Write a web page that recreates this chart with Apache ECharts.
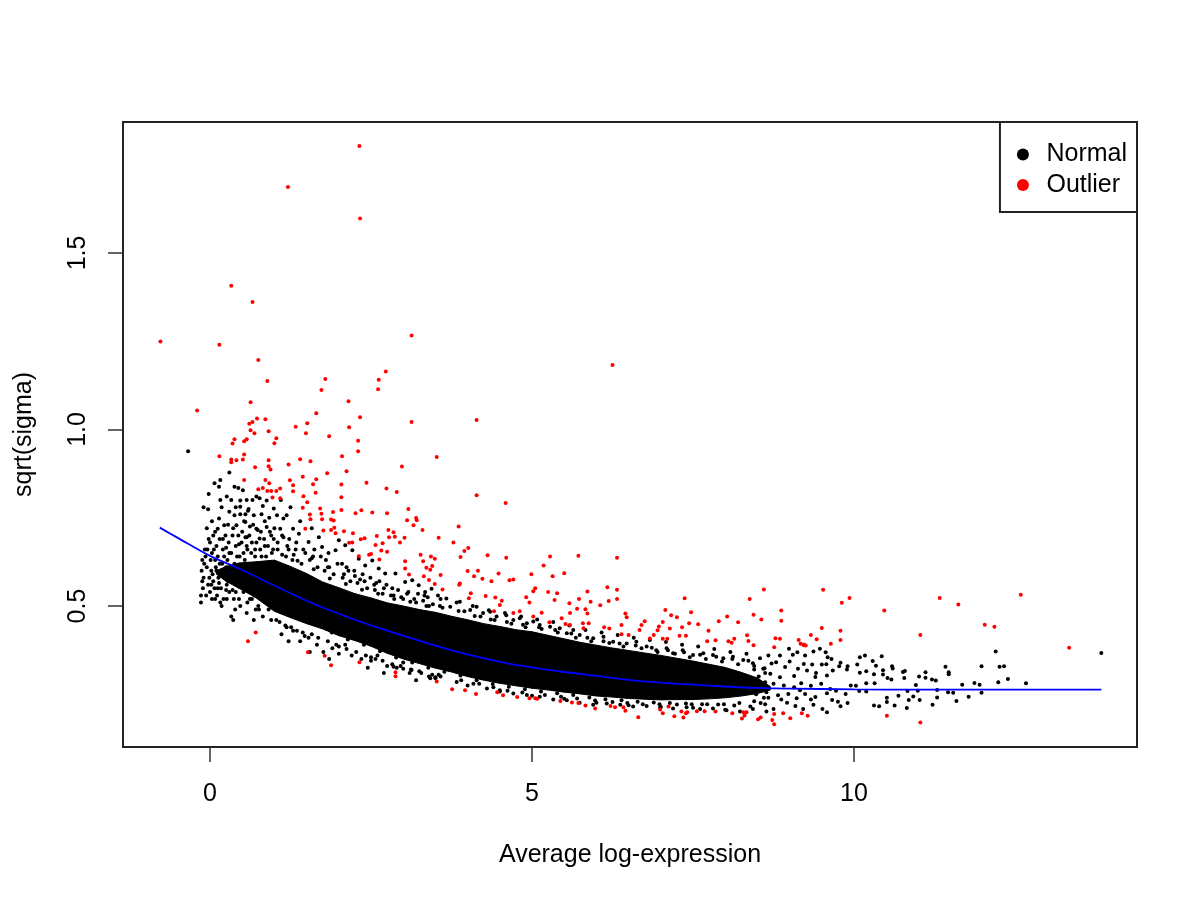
<!DOCTYPE html>
<html>
<head>
<meta charset="utf-8">
<script src="https://cdn.jsdelivr.net/npm/echarts@6/dist/echarts.min.js"></script>
<style>
html,body{margin:0;padding:0;background:#fff;}
#chart{width:1200px;height:900px;}
</style>
</head>
<body>
<div id="chart"></div>
<script>
// ---- axis ticks ----
const xTicks = [0, 5, 10];
const yTicks = [0.5, 1.0, 1.5];

// ---- fitted trend (blue line) ----
const lineX = [-0.78,-0.5,0,0.5,1,1.5,2,2.5,3,3.5,4,4.5,5,5.5,6,6.5,7,7.5,8,8.5,9,10,11,12,13,13.84];
const lineY = [0.722,0.693,0.642,0.602,0.558,0.515,0.478,0.445,0.416,0.388,0.363,0.342,0.326,0.313,0.302,0.291,0.283,0.277,0.272,0.268,0.266,0.264,0.263,0.263,0.263,0.263];

// ---- solid core of the "Normal" cloud (lower / upper edge) ----
const coreX = [0.1,0.25,0.45,0.7,1.0,1.25,1.5,1.75,2.0,2.25,2.5,2.75,3.0,3.25,3.5,3.75,4.0,4.25,4.5,4.75,5.0,5.25,5.5,5.75,6.0,6.25,6.5,6.75,7.0,7.25,7.5,7.75,8.0,8.25,8.5,8.7];
const coreLow = [0.59,0.57,0.55,0.525,0.485,0.467,0.45,0.435,0.416,0.402,0.386,0.366,0.35,0.337,0.324,0.313,0.3,0.29,0.281,0.274,0.267,0.262,0.256,0.251,0.245,0.242,0.238,0.236,0.234,0.235,0.235,0.237,0.24,0.245,0.252,0.262];
const coreHigh = [0.60,0.612,0.622,0.625,0.63,0.612,0.592,0.568,0.552,0.535,0.523,0.509,0.5,0.49,0.482,0.471,0.461,0.45,0.442,0.433,0.427,0.417,0.407,0.397,0.389,0.381,0.374,0.367,0.36,0.352,0.344,0.335,0.326,0.312,0.296,0.272];

// ---- Normal points ----
const normalLeft = [[-0.34,0.938],[0.30,0.878],[0.07,0.848],[0.16,0.857],[0.14,0.838],[-0.02,0.817],[-0.10,0.780],[-0.03,0.774],[0.38,0.838],[0.44,0.834],[0.51,0.828],[0.16,0.800],[0.33,0.800],[0.47,0.799],[0.57,0.800],[0.72,0.810],[0.77,0.805],[0.88,0.799],[0.82,0.783],[0.47,0.781],[0.30,0.767],[0.14,0.748],[0.22,0.729],[0.12,0.719],[0.38,0.757],[0.41,0.729],[0.55,0.738],[0.68,0.757],[0.99,0.776],[0.57,0.695],[0.77,0.691],[0.95,0.700],[0.72,0.719],[0.88,0.724],[0.05,0.70],[0.0,0.68],[0.10,0.67],[0.20,0.69],[0.25,0.665],[0.35,0.70],[0.45,0.675],[0.50,0.71],[0.62,0.725],[0.65,0.68],[0.85,0.67],[0.92,0.75],[0.60,0.775],[0.26,0.81],[0.55,0.76],[0.03,0.74],[-0.05,0.72],[-0.08,0.66],[0.18,0.78],[0.40,0.78],[0.66,0.80],[0.85,0.74],[0.70,0.66],[0.30,0.65],[0.98,0.66],
[-0.12,0.63],[-0.05,0.61],[-0.10,0.58],[0.02,0.60],[0.05,0.57],[-0.14,0.53],[-0.14,0.51],[0.0,0.54],[0.08,0.52],[0.16,0.51],[0.26,0.52],[0.33,0.47],[0.36,0.46],[0.47,0.50],[0.57,0.48],[0.68,0.46],[0.82,0.47],[0.95,0.46],[-0.03,0.56],[0.12,0.55],[0.22,0.64],[0.08,0.63],[0.18,0.59],[0.28,0.57],[0.40,0.54],[0.42,0.64],[0.52,0.65],[0.62,0.52],[0.75,0.50],[0.80,0.64],[0.90,0.52],[0.15,0.62],[0.35,0.61],[0.25,0.545],[0.45,0.58],[0.58,0.66],[0.70,0.59],[-0.07,0.64],[0.03,0.65],[0.10,0.60],[0.64,0.55],[0.86,0.55],
[-0.13,0.60],[-0.11,0.55],[-0.09,0.62],[-0.06,0.53],[-0.04,0.66],[-0.01,0.58],[0.01,0.63],[0.03,0.52],[0.04,0.59],[0.06,0.66],[0.07,0.55],[0.09,0.61],[0.11,0.53],[0.12,0.64],[0.13,0.58],[0.15,0.69],[0.17,0.55],[0.19,0.62],[0.20,0.66],[0.21,0.52],[0.23,0.59],[0.24,0.70],[0.26,0.56],[0.27,0.63],[0.29,0.68],[0.30,0.54],[0.31,0.60],[0.33,0.65],[0.34,0.57],[0.36,0.72],[0.37,0.52],[0.38,0.62],[0.40,0.67],[0.41,0.56],[0.43,0.60],[0.44,0.70],[0.45,0.52],[0.46,0.64],[0.48,0.57],[0.49,0.68],[0.50,0.61],[0.52,0.54],[0.53,0.74],[0.54,0.63],[0.56,0.58],[0.57,0.67],[0.58,0.51],[0.60,0.62],[0.61,0.70],[0.63,0.56],[0.64,0.65],[0.66,0.60],[0.67,0.73],[0.69,0.53],[0.70,0.64],[0.72,0.68],[0.73,0.58],[0.75,0.62],[0.76,0.49],[0.78,0.66],[0.79,0.71],[0.81,0.56],[0.82,0.61],[0.84,0.69],[0.85,0.52],[0.87,0.64],[0.88,0.58],[0.90,0.67],[0.92,0.62],[0.93,0.71],[0.95,0.55],[0.96,0.65],[0.98,0.60],[0.99,0.69],[-0.12,0.57],[-0.02,0.69],[0.08,0.71],[0.18,0.50],[0.28,0.73],[0.39,0.49],[0.47,0.76],[0.59,0.77],[0.71,0.49],[0.80,0.76],[0.91,0.49],[1.0,0.72],[0.02,0.56],[0.14,0.565],[0.25,0.61],[0.35,0.545],[0.55,0.695],[0.65,0.52],[0.74,0.715],[0.86,0.60],[0.97,0.52]];

const normalMid = [[1.04,0.757],[1.14,0.748],[1.19,0.757],[1.29,0.719],[1.09,0.719],[1.14,0.695],[1.38,0.705],[1.53,0.681],[1.69,0.695],[1.74,0.667],[2.00,0.686],[1.95,0.658],[2.10,0.672],[2.21,0.658],[2.31,0.634],[2.41,0.615],[2.52,0.629],[2.62,0.606],[2.72,0.592],[2.88,0.592],[3.03,0.568],[3.14,0.573],[3.24,0.559],[3.34,0.540],[3.44,0.549],[3.54,0.530],[3.67,0.521],[1.05,0.68],[1.22,0.66],[1.30,0.645],[1.45,0.66],[1.60,0.64],[1.25,0.78],[1.10,0.80],[1.40,0.74],[1.58,0.72],[1.80,0.63],[1.85,0.61],[2.05,0.62],[2.15,0.60],[2.25,0.585],[2.40,0.57],[2.55,0.56],[2.70,0.55],[2.85,0.53],[3.00,0.52],[3.20,0.51],[3.40,0.50],
[1.03,0.46],[1.11,0.42],[1.19,0.44],[1.29,0.43],[1.40,0.40],[1.53,0.41],[1.66,0.39],[1.76,0.37],[1.9,0.38],[2.0,0.365],[2.1,0.39],[2.2,0.36],[2.35,0.35],[2.5,0.345],[2.6,0.36],[2.75,0.33],[2.9,0.325],[3.0,0.34],[3.1,0.31],[3.25,0.315],[3.4,0.30],[3.5,0.295],[1.55,0.37],[1.85,0.35],[2.45,0.325],[3.2,0.29],[1.22,0.40],[2.7,0.31],[2.85,0.328],[3.13,0.319],[3.55,0.305],[3.42,0.295],
[1.12,0.645],[1.20,0.67],[1.36,0.628],[1.33,0.66],[1.61,0.604],[1.58,0.635],[1.47,0.415],[1.86,0.578],[1.83,0.61],[1.89,0.425],[2.11,0.562],[2.08,0.59],[2.0,0.385],[2.14,0.405],[2.36,0.546],[2.33,0.575],[2.39,0.39],[2.61,0.535],[2.58,0.565],[2.5,0.355],[2.64,0.372],[2.86,0.52],[2.83,0.55],[2.89,0.354],[3.11,0.512],[3.08,0.54],[3.0,0.322],[3.14,0.34],[3.36,0.50],[3.33,0.53],[3.39,0.325],[3.61,0.495],[3.58,0.52],[3.5,0.298],[3.64,0.314],
[1.05,0.66],[1.12,0.70],[1.18,0.64],[1.23,0.69],[1.28,0.63],[1.34,0.68],[1.42,0.62],[1.48,0.65],[1.55,0.63],[1.62,0.66],[1.67,0.61],[1.72,0.64],[1.78,0.60],[1.84,0.65],[1.92,0.59],[1.98,0.62],[2.06,0.58],[2.12,0.61],[2.18,0.57],[2.24,0.60],[2.29,0.565],[2.37,0.59],[2.44,0.55],[2.49,0.58],[2.56,0.545],[2.63,0.57],[2.68,0.535],[2.74,0.56],[2.81,0.53],[2.92,0.545],[2.97,0.525],[3.06,0.535],[3.17,0.52],[3.23,0.535],[3.31,0.515],[3.38,0.525],[3.46,0.505],[3.57,0.50],
[1.08,0.455],[1.17,0.445],[1.26,0.44],[1.35,0.43],[1.44,0.425],[1.58,0.42],[1.68,0.41],[1.83,0.40],[1.96,0.39],[2.12,0.378],[2.27,0.37],[2.42,0.36],[2.57,0.35],[2.68,0.345],[2.83,0.335],[2.96,0.33],[3.12,0.32],[3.28,0.31],[3.45,0.305],[3.58,0.30]];

const normalRight = [[3.73,0.498],[3.88,0.512],[4.04,0.489],[4.14,0.498],[4.24,0.480],[4.35,0.484],[4.45,0.470],[4.60,0.474],[4.71,0.460],[4.81,0.465],[4.92,0.451],[5.02,0.456],[5.12,0.446],[5.28,0.441],[5.43,0.437],[5.54,0.423],[5.64,0.432],[5.74,0.418],[5.95,0.409],[6.11,0.413],[6.26,0.399],[6.47,0.394],[6.62,0.399],[6.78,0.385],[6.93,0.375],[7.09,0.380],[7.19,0.366],[7.34,0.375],[7.50,0.361],[7.66,0.366],[7.81,0.361],[7.97,0.352],[8.12,0.356],[8.28,0.347],[8.43,0.338],[8.54,0.352],[8.61,0.324],
[3.83,0.285],[4.09,0.280],[4.30,0.266],[4.50,0.261],[4.71,0.252],[4.92,0.248],[5.12,0.243],[5.33,0.235],[5.54,0.233],[5.74,0.226],[5.95,0.220],[6.16,0.224],[6.37,0.220],[6.57,0.215],[6.78,0.217],[6.99,0.213],[7.19,0.210],[7.40,0.213],[7.61,0.208],[7.81,0.210],[8.02,0.205],[8.23,0.201],[8.43,0.208],[8.64,0.201],
[3.86,0.486],[3.89,0.303],[3.83,0.51],[4.11,0.472],[4.14,0.29],[4.08,0.50],[4.0,0.275],[4.36,0.462],[4.39,0.279],[4.33,0.488],[4.61,0.455],[4.64,0.271],[4.58,0.48],[4.5,0.258],[4.86,0.447],[4.89,0.264],[4.83,0.47],[5.11,0.44],[5.14,0.258],[5.08,0.462],[5.0,0.246],[5.36,0.432],[5.39,0.253],[5.33,0.455],[5.61,0.422],[5.64,0.248],[5.58,0.445],[5.5,0.237],[5.86,0.41],[5.89,0.241],[5.83,0.432],[6.11,0.40],[6.14,0.236],[6.08,0.425],[6.0,0.226],[6.36,0.394],[6.39,0.233],[6.33,0.418],[6.61,0.388],[6.64,0.229],[6.58,0.41],[6.5,0.219],[6.86,0.382],[6.89,0.227],[6.83,0.404],[7.11,0.375],[7.14,0.225],[7.08,0.398],[7.0,0.214],[7.36,0.369],[7.39,0.224],[7.33,0.39],[7.61,0.362],[7.64,0.222],[7.58,0.385],[7.5,0.212],[7.86,0.356],[7.89,0.221],[7.83,0.378],[8.11,0.35],[8.14,0.218],[8.08,0.37],[8.0,0.206],[8.36,0.345],[8.39,0.215],[8.33,0.365],[8.52,0.30],[8.45,0.33],[8.48,0.25],[8.55,0.225],[8.42,0.29],[8.58,0.27],[8.62,0.31],[8.6,0.24],
[3.95,0.485],[4.2,0.47],[4.42,0.46],[4.68,0.45],[4.9,0.44],[5.15,0.435],[5.4,0.425],[5.68,0.41],[5.92,0.40],[6.2,0.395],[6.42,0.385],[6.7,0.38],[6.95,0.37],[7.22,0.365],[7.45,0.355],[7.7,0.35],[7.95,0.343],[8.2,0.335],[8.45,0.32],
[3.9,0.29],[4.18,0.28],[4.4,0.27],[4.62,0.26],[4.85,0.255],[5.2,0.248],[5.45,0.243],[5.7,0.238],[5.98,0.232],[6.25,0.228],[6.48,0.225],[6.72,0.222],[6.98,0.222],[7.25,0.221],[7.48,0.222],[7.72,0.222],[7.98,0.222],[8.22,0.225],[8.45,0.23]];

const normalTail = [[8.99,0.379],[8.85,0.360],[8.67,0.360],[9.05,0.362],[9.12,0.369],[9.24,0.360],[9.37,0.371],[9.47,0.379],[9.56,0.369],[8.79,0.341],[8.93,0.327],[9.0,0.343],[9.22,0.336],[9.35,0.334],[9.50,0.334],[8.59,0.322],[8.70,0.308],[8.85,0.298],[9.07,0.302],[9.27,0.317],[9.41,0.310],[9.58,0.303],[9.67,0.317],[8.62,0.284],[8.75,0.280],[8.91,0.275],[9.07,0.270],[9.18,0.281],[9.33,0.274],[9.49,0.280],[9.63,0.265],[8.64,0.256],[8.82,0.247],[8.98,0.251],[9.11,0.239],[9.24,0.251],[9.40,0.242],[9.58,0.253],[9.66,0.234],[8.62,0.222],[8.75,0.208],[8.96,0.226],[9.09,0.217],[9.21,0.208],[9.37,0.220],[9.51,0.208],[9.58,0.199],[8.67,0.240],[8.87,0.235],[9.33,0.235],[9.16,0.261],[9.40,0.299],[9.13,0.322],[8.72,0.337],[9.59,0.355],
[10.09,0.355],[10.17,0.360],[10.29,0.344],[10.43,0.358],[10.05,0.334],[9.90,0.329],[9.79,0.339],[9.65,0.350],[9.57,0.335],[9.77,0.329],[9.89,0.320],[10.09,0.311],[10.19,0.315],[10.34,0.331],[10.45,0.318],[10.45,0.306],[10.59,0.329],[10.60,0.323],[10.58,0.292],[10.52,0.296],[10.31,0.307],[10.32,0.281],[10.19,0.281],[10.19,0.258],[10.08,0.259],[9.95,0.275],[10.03,0.274],[9.87,0.251],[9.90,0.225],[9.79,0.216],[9.75,0.229],[9.72,0.260],[10.31,0.218],[10.39,0.216],[10.51,0.228],[10.51,0.240],[10.63,0.218],[10.69,0.246],[10.76,0.313],[10.79,0.316],[10.78,0.296],[10.83,0.259],[10.85,0.234],[10.82,0.211],[10.92,0.244],[10.96,0.276],[10.99,0.260],[11.02,0.234],[11.01,0.300],[11.11,0.312],[11.11,0.297],[11.22,0.220],[11.21,0.292],[11.27,0.289],[11.29,0.262],[11.29,0.241],[11.42,0.328],[11.47,0.312],[11.47,0.307],[11.46,0.256],[11.54,0.254],[11.59,0.231],[11.68,0.277],[11.78,0.243],[11.87,0.282],[11.95,0.277],[11.98,0.329],[11.98,0.254],[12.20,0.371],[12.24,0.284],[12.26,0.328],[12.33,0.329],[12.39,0.293],[12.67,0.281],[13.84,0.367]];

// ---- Outlier points ----
const outlierPts = [[2.32,1.803],[1.21,1.687],[2.33,1.598],[0.33,1.407],[0.66,1.361],[-0.77,1.249],[0.145,1.240],[3.13,1.266],[0.75,1.197],[2.73,1.164],[2.62,1.141],[1.79,1.143],[0.89,1.137],[1.73,1.112],[2.61,1.114],[-0.20,1.054],[0.63,1.077],[2.15,1.080],[1.65,1.046],[2.33,1.035],[3.13,1.021],[0.73,1.031],[0.86,1.029],[0.66,1.021],[0.61,1.016],[1.51,1.018],[1.33,1.008],[2.16,1.006],[0.63,0.998],[0.69,0.989],[0.91,0.995],[1.49,0.989],[1.85,0.981],[0.38,0.972],[0.57,0.972],[0.53,0.967],[1.03,0.975],[2.30,0.968],[0.35,0.960],[1.00,0.961],[6.25,1.183],[4.14,1.027],
[0.145,0.924],[0.33,0.915],[0.33,0.907],[0.41,0.913],[0.51,0.915],[0.53,0.929],[0.70,0.893],[0.91,0.913],[0.91,0.896],[0.94,0.887],[1.22,0.901],[1.40,0.916],[1.56,0.910],[2.05,0.924],[2.30,0.938],[3.52,0.922],[2.98,0.895],[1.82,0.876],[2.12,0.882],[1.44,0.866],[0.53,0.857],[0.86,0.857],[0.92,0.848],[1.24,0.856],[1.65,0.859],[1.60,0.845],[2.04,0.844],[2.43,0.849],[1.29,0.842],[2.74,0.833],[2.90,0.823],[0.75,0.831],[0.82,0.834],[0.89,0.826],[0.95,0.826],[1.03,0.826],[1.09,0.833],[1.29,0.825],[1.64,0.821],[0.97,0.807],[1.09,0.805],[1.45,0.811],[2.04,0.808],[1.51,0.794],[1.44,0.778],[1.71,0.776],[2.04,0.772],[2.26,0.763],[2.35,0.771],[2.52,0.765],[2.75,0.763],[3.08,0.775],[1.55,0.759],[1.73,0.761],[1.91,0.766],[1.56,0.746],[1.74,0.746],[1.88,0.745],[1.92,0.742],[3.20,0.749],[3.21,0.743],[3.06,0.743],[1.48,0.719],[1.88,0.715],[1.93,0.722],[2.08,0.712],[2.22,0.706],[1.95,0.706],[2.77,0.715],[2.85,0.709],[2.87,0.696],[3.16,0.729],[3.30,0.715],[1.76,0.714],[2.59,0.698],[2.78,0.695],[3.02,0.693],[3.55,0.693],[2.16,0.679],[2.21,0.680],[2.34,0.689],[2.40,0.692],[2.68,0.678],[2.57,0.673],[2.95,0.680],[2.66,0.657],[2.47,0.645],[2.50,0.647],[2.63,0.632],[2.75,0.654],[2.31,0.641],[3.27,0.645],[3.31,0.627],[3.03,0.627],[3.03,0.606],[3.09,0.589],[3.43,0.640],[3.49,0.634],[3.45,0.613],[3.42,0.603],[3.36,0.608],[3.32,0.584],[3.58,0.588],[3.40,0.574],[3.49,0.562],[3.61,0.547],
[0.71,0.425],[0.59,0.400],[1.52,0.369],[1.78,0.359],[1.88,0.332],[2.32,0.341],[2.88,0.312],[2.88,0.301],[3.52,0.286],
[4.14,0.814],[4.59,0.792],[3.86,0.725],[3.78,0.680],[3.95,0.656],[4.01,0.664],[3.89,0.639],[4.31,0.644],[4.60,0.637],[5.28,0.640],[5.72,0.642],[6.32,0.637],[4.00,0.599],[4.16,0.600],[4.10,0.584],[4.23,0.577],[4.48,0.592],[4.37,0.570],[4.65,0.573],[4.71,0.575],[4.99,0.590],[5.18,0.615],[5.32,0.584],[5.50,0.593],[3.88,0.564],[3.87,0.560],[4.05,0.536],[4.02,0.522],[4.28,0.528],[4.43,0.524],[4.53,0.515],[4.50,0.503],[4.41,0.485],[4.71,0.480],[4.81,0.485],[4.96,0.510],[4.91,0.525],[5.05,0.550],[5.02,0.542],[5.25,0.540],[5.39,0.536],[5.35,0.517],[5.58,0.508],[5.73,0.520],[5.86,0.541],[5.91,0.512],[6.17,0.553],[6.32,0.546],[6.32,0.520],[6.06,0.502],[6.19,0.514],[5.70,0.492],[5.83,0.491],[5.86,0.479],[5.59,0.480],[5.46,0.465],[5.52,0.449],[5.59,0.446],[5.27,0.454],[5.15,0.481],[5.02,0.470],[5.79,0.451],[5.88,0.451],[5.80,0.437],[6.12,0.440],[6.20,0.436],[6.39,0.446],[6.39,0.420],[6.50,0.418],[6.45,0.479],[6.47,0.468],[6.67,0.432],[6.70,0.446],[6.75,0.457],[6.83,0.408],[6.89,0.418],[6.95,0.431],[6.97,0.442],[7.03,0.455],[7.07,0.489],[7.16,0.474],[7.25,0.468],[7.03,0.407],[7.10,0.407],[7.14,0.436],[7.29,0.416],[7.33,0.440],[7.39,0.416],[7.37,0.522],[7.44,0.451],[7.47,0.482],[7.58,0.448],[7.72,0.400],[7.74,0.430],[7.85,0.403],[7.90,0.457],[8.03,0.470],[8.05,0.400],[8.10,0.396],[8.14,0.407],[8.20,0.454],[8.34,0.417],[8.36,0.401],[8.38,0.520],[8.44,0.475],[8.56,0.462],[8.60,0.547],[8.44,0.389],
[3.76,0.264],[3.96,0.261],[4.13,0.251],[4.46,0.256],[4.55,0.247],[4.77,0.242],[4.96,0.239],[5.05,0.239],[5.08,0.237],[5.44,0.231],[5.62,0.227],[5.72,0.225],[5.83,0.218],[5.98,0.210],[6.22,0.217],[6.29,0.213],[6.42,0.213],[6.45,0.203],[6.65,0.185],[6.99,0.207],[7.03,0.196],[7.12,0.215],[7.21,0.188],[7.32,0.201],[7.35,0.184],[7.39,0.196],[7.41,0.199],[7.56,0.202],[7.68,0.202],[7.85,0.201],[8.11,0.196],[8.26,0.181],[8.28,0.199],[8.30,0.190],[8.33,0.199],[8.51,0.179],[8.55,0.184],
[9.52,0.546],[9.93,0.523],[9.81,0.509],[11.33,0.523],[11.62,0.504],[12.59,0.532],[8.87,0.487],[8.87,0.458],[10.47,0.487],[9.50,0.438],[9.79,0.430],[9.33,0.418],[12.03,0.447],[12.18,0.441],[11.03,0.418],[13.34,0.382],[8.78,0.409],[8.85,0.407],[9.14,0.404],[9.42,0.406],[9.79,0.404],[9.64,0.393],[9.17,0.393],[9.22,0.391],[9.22,0.389],[9.25,0.388],[8.76,0.383],[8.76,0.194],[8.73,0.177],[8.76,0.165],[8.90,0.196],[9.01,0.182],[9.19,0.196],[9.28,0.189],[10.51,0.189],[11.03,0.170]];

// ---- axis ranges (R's 4% padding around the data) ----
const xRange = [-1.351, 14.394];
const yRange = [0.1006, 1.871];

const FONT = 'Liberation Sans, Arial, Helvetica, sans-serif';
const normalPts = normalLeft.concat(normalMid, normalRight, normalTail);
const coreData = coreX.map((x, i) => [x, coreLow[i], coreHigh[i]]);
const lineData = lineX.map((x, i) => [x, lineY[i]]);

const chart = echarts.init(document.getElementById('chart'), null, {renderer: 'canvas'});
chart.setOption({
  animation: false,
  backgroundColor: '#fff',
  textStyle: {fontFamily: FONT},
  grid: {left: 123, right: 63, top: 122, bottom: 153, show: true, borderColor: '#222', borderWidth: 2, backgroundColor: 'transparent'},
  legend: {
    data: ['Normal', 'Outlier'],
    orient: 'vertical',
    right: 63, top: 122,
    icon: 'circle',
    itemWidth: 37, itemHeight: 12, itemGap: 4.4,
    padding: [19.5, 10, 14, 17],
    borderColor: '#222', borderWidth: 2,
    backgroundColor: '#fff',
    textStyle: {fontSize: 25, color: '#000', fontFamily: FONT, lineHeight: 26},
    selectedMode: false
  },
  xAxis: {
    type: 'value', min: xRange[0], max: xRange[1],
    name: 'Average log-expression', nameLocation: 'middle', nameGap: 96,
    nameTextStyle: {fontSize: 25, color: '#000', fontFamily: FONT},
    axisLine: {show: false, onZero: false},
    splitLine: {show: false},
    axisTick: {show: true, length: 15, customValues: xTicks, lineStyle: {color: '#333', width: 1.5}},
    axisLabel: {customValues: xTicks, fontSize: 25, color: '#000', margin: 35, formatter: v => String(v)}
  },
  yAxis: {
    type: 'value', min: yRange[0], max: yRange[1],
    name: 'sqrt(sigma)', nameLocation: 'middle', nameGap: 86,
    nameTextStyle: {fontSize: 25, color: '#000', fontFamily: FONT},
    axisLine: {show: false, onZero: false},
    splitLine: {show: false},
    axisTick: {show: true, length: 15, customValues: yTicks, lineStyle: {color: '#333', width: 1.5}},
    axisLabel: {customValues: yTicks, fontSize: 25, color: '#000', margin: 32, rotate: 90, formatter: v => v.toFixed(1)}
  },
  series: [
    {
      name: 'NormalCore', type: 'custom', silent: true, z: 1,
      data: coreData,
      encode: {x: 0, y: [1, 2]},
      renderItem: function (params, api) {
        const i = params.dataIndex;
        if (i >= coreX.length - 1) return null;
        const pts = [
          api.coord([coreX[i], coreLow[i]]),
          api.coord([coreX[i + 1], coreLow[i + 1]]),
          api.coord([coreX[i + 1], coreHigh[i + 1]]),
          api.coord([coreX[i], coreHigh[i]])
        ];
        return {type: 'polygon', shape: {points: pts}, style: {fill: '#000', stroke: '#000', lineWidth: 1}};
      }
    },
    {
      name: 'Normal', type: 'scatter', z: 2, silent: true,
      data: normalPts, symbol: 'circle', symbolSize: 4,
      itemStyle: {color: '#000', opacity: 1}
    },
    {
      name: 'Outlier', type: 'scatter', z: 3, silent: true,
      data: outlierPts, symbol: 'circle', symbolSize: 4,
      itemStyle: {color: '#ff0000', opacity: 1}
    },
    {
      name: 'Trend', type: 'line', z: 4, silent: true,
      data: lineData, smooth: 0.3, showSymbol: false, symbol: 'none',
      lineStyle: {color: '#0000ff', width: 1.8}
    }
  ]
});
</script>
</body>
</html>
